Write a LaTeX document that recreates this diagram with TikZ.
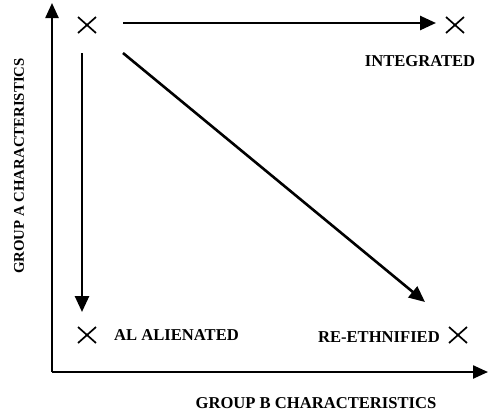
\documentclass[tikz,border=0pt]{standalone}
\usepackage{fontspec}
\setmainfont{Liberation Serif}
\usetikzlibrary{arrows.meta}
\begin{document}
\begin{tikzpicture}[x=1pt,y=-1pt,
  lbl/.style={inner sep=0pt,font=\fontsize{16.6}{18}\selectfont\bfseries},
  arr/.style={line width=2.6pt,-{Triangle[length=16pt,width=14pt]}},
  axis/.style={line width=2.4pt,-{Triangle[length=15pt,width=13pt]}},
  crossmark/.style={line width=1.7pt}]
\useasboundingbox (0,0) rectangle (489,413);
% axes
\coordinate (o) at (52,372);
\coordinate (ytip) at (52,3);
\coordinate (xtip) at (488,372);
\draw[axis] (o) -- (ytip);
\draw[axis] (o) -- (xtip);
% crosses
\foreach \n/\x/\y in {tl/87/25, tr/455/25, bl/87/335, br/458/335}{
  \coordinate (\n) at (\x,\y);
  \draw[crossmark] ([shift={(-9,-8)}]\n) -- ([shift={(9,8)}]\n);
  \draw[crossmark] ([shift={(-9,8)}]\n) -- ([shift={(9,-8)}]\n);
}
% arrow endpoints
\coordinate (hs) at (123,23);
\coordinate (he) at (436,23);
\coordinate (vs) at (82,53);
\coordinate (ve) at (82,312);
\coordinate (ds) at (123,53);
\coordinate (de) at (425,302);
\draw[arr] (hs) -- (he);
\draw[arr] (vs) -- (ve);
\draw[arr] (ds) -- (de);
% labels
\node[lbl] (int) at (420,61) {INTEGRATED};
\node[lbl,anchor=west] (ali) at (114,335) {AL ALIENATED};
\node[lbl,anchor=east] (reth) at (440,337) {RE-ETHNIFIED};
\node[lbl] (gb) at (316,403) {GROUP B CHARACTERISTICS};
\node[lbl,rotate=90,font=\fontsize{14.8}{17}\selectfont\bfseries] (ga) at (19,166) {GROUP A CHARACTERISTICS};
\end{tikzpicture}
\end{document}
